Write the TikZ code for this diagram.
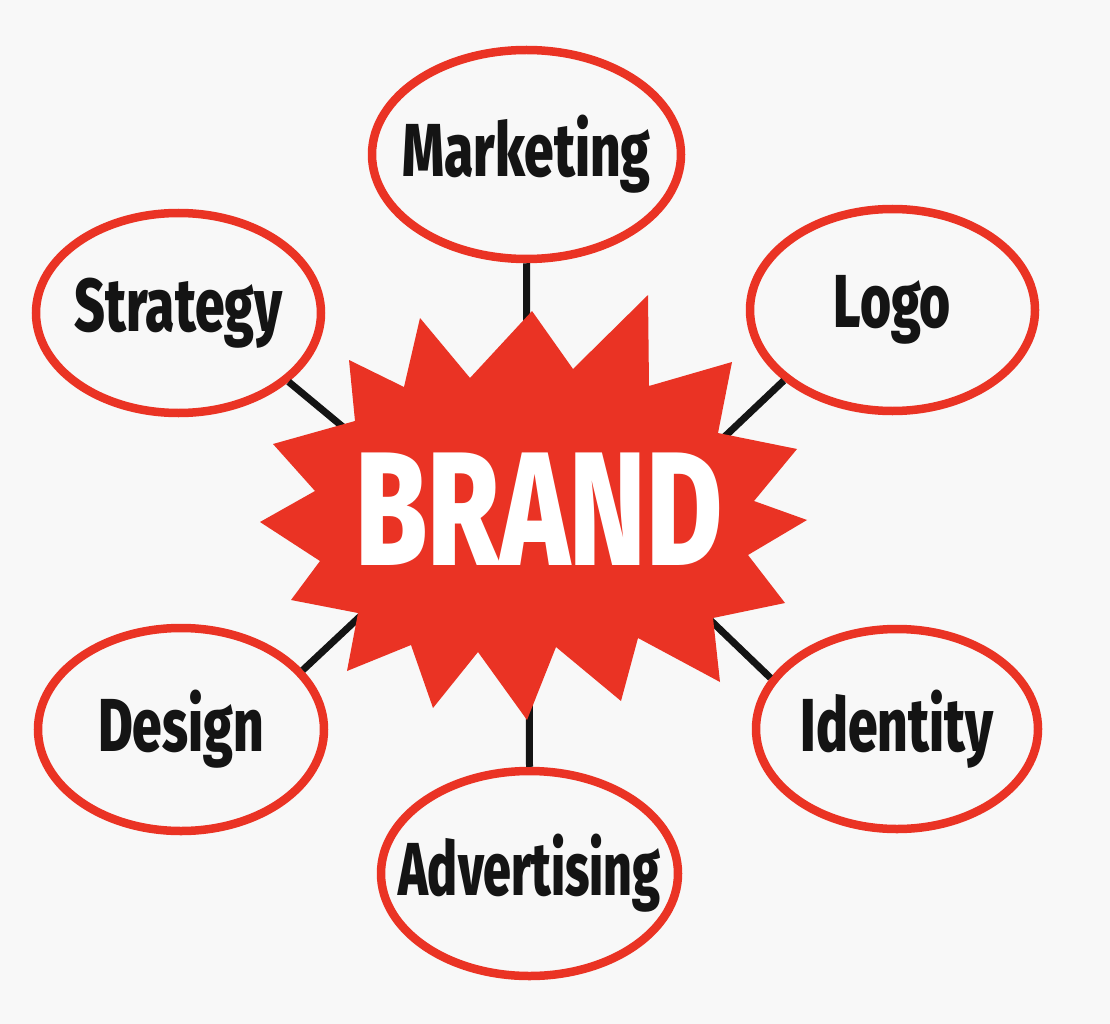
\documentclass[tikz,border=0pt]{standalone}
\usepackage{fontspec}
\setmainfont{Fira Sans ExtraBold}[FakeStretch=0.71]
\newfontfamily\brandfont{Fira Sans ExtraBold}[FakeStretch=0.72]
\usetikzlibrary{shapes,backgrounds}
\definecolor{brandred}{RGB}{234,51,36}
\definecolor{paper}{RGB}{248,248,248}
\definecolor{ink}{RGB}{20,20,20}
\tikzset{
	bubble/.style 2 args={ellipse,draw=brandred,line width=8.5pt,fill=paper,
		minimum width=#1,minimum height=#2,inner sep=0pt},
	bubbletext/.style={font=\fontsize{75}{80}\selectfont,text=ink},
	link/.style={draw=ink,line width=7pt},
}

\begin{document}
\begin{tikzpicture}[x=1pt,y=-1pt]
		\useasboundingbox[fill=paper] (0,0) rectangle (1110,1024);
		\begin{scope}
			% the six topics
			\node(marketing)   [bubble={309}{209},label={[bubbletext]center:Marketing}]   at (526.5,154.5) {};
			\node(strategy)    [bubble={285}{200},label={[bubbletext]center:Strategy}]    at (178.5,313) {};
			\node(logo)        [bubble={285}{202},label={[bubbletext]center:Logo}]        at (892.5,310) {};
			\node(design)      [bubble={286}{203},label={[bubbletext]center:Design}]      at (181,729.5) {};
			\node(identity)    [bubble={282}{200},label={[bubbletext]center:Identity}]    at (897,729) {};
			\node(advertising) [bubble={297}{205},label={[bubbletext]center:\scalebox{0.94}[1]{Advertising}}] at (529.5,873.5) {};
			% inner ends of the links, under the star
			\coordinate (toMarketing)   at (527,420);
			\coordinate (toStrategy)    at (390,466);
			\coordinate (toLogo)        at (680,479);
			\coordinate (toDesign)      at (400,579);
			\coordinate (toIdentity)    at (680,591);
			\coordinate (toAdvertising) at (529,640);
			\path[link]
				(marketing.south)   -- (toMarketing)
				(strategy.-32)      -- (toStrategy)
				(logo.213)          -- (toLogo)
				(design.26)         -- (toDesign)
				(identity.158)      -- (toIdentity)
				(advertising.north) -- (toAdvertising);
			% the star
			\fill[brandred] (532,311) -- (573,369) -- (648,295) -- (649,386) -- (732,362) -- (718,433)
				-- (797,449) -- (754,501) -- (807,520) -- (748,555) -- (785,603) -- (713,618)
				-- (720,682) -- (638,638) -- (621,701) -- (556,647) -- (527,720) -- (478,652)
				-- (433,708) -- (411,645) -- (347,671) -- (358,613) -- (291,600) -- (320,561)
				-- (260,522) -- (315,491) -- (273,444) -- (355,421) -- (349,360) -- (404,387)
				-- (420,318) -- (470,378) -- cycle;
			\node(brand) [font=\brandfont\fontsize{162}{165}\selectfont,text=white] at (539,509) {BRAND};
		\end{scope}
	\end{tikzpicture}
\end{document}
